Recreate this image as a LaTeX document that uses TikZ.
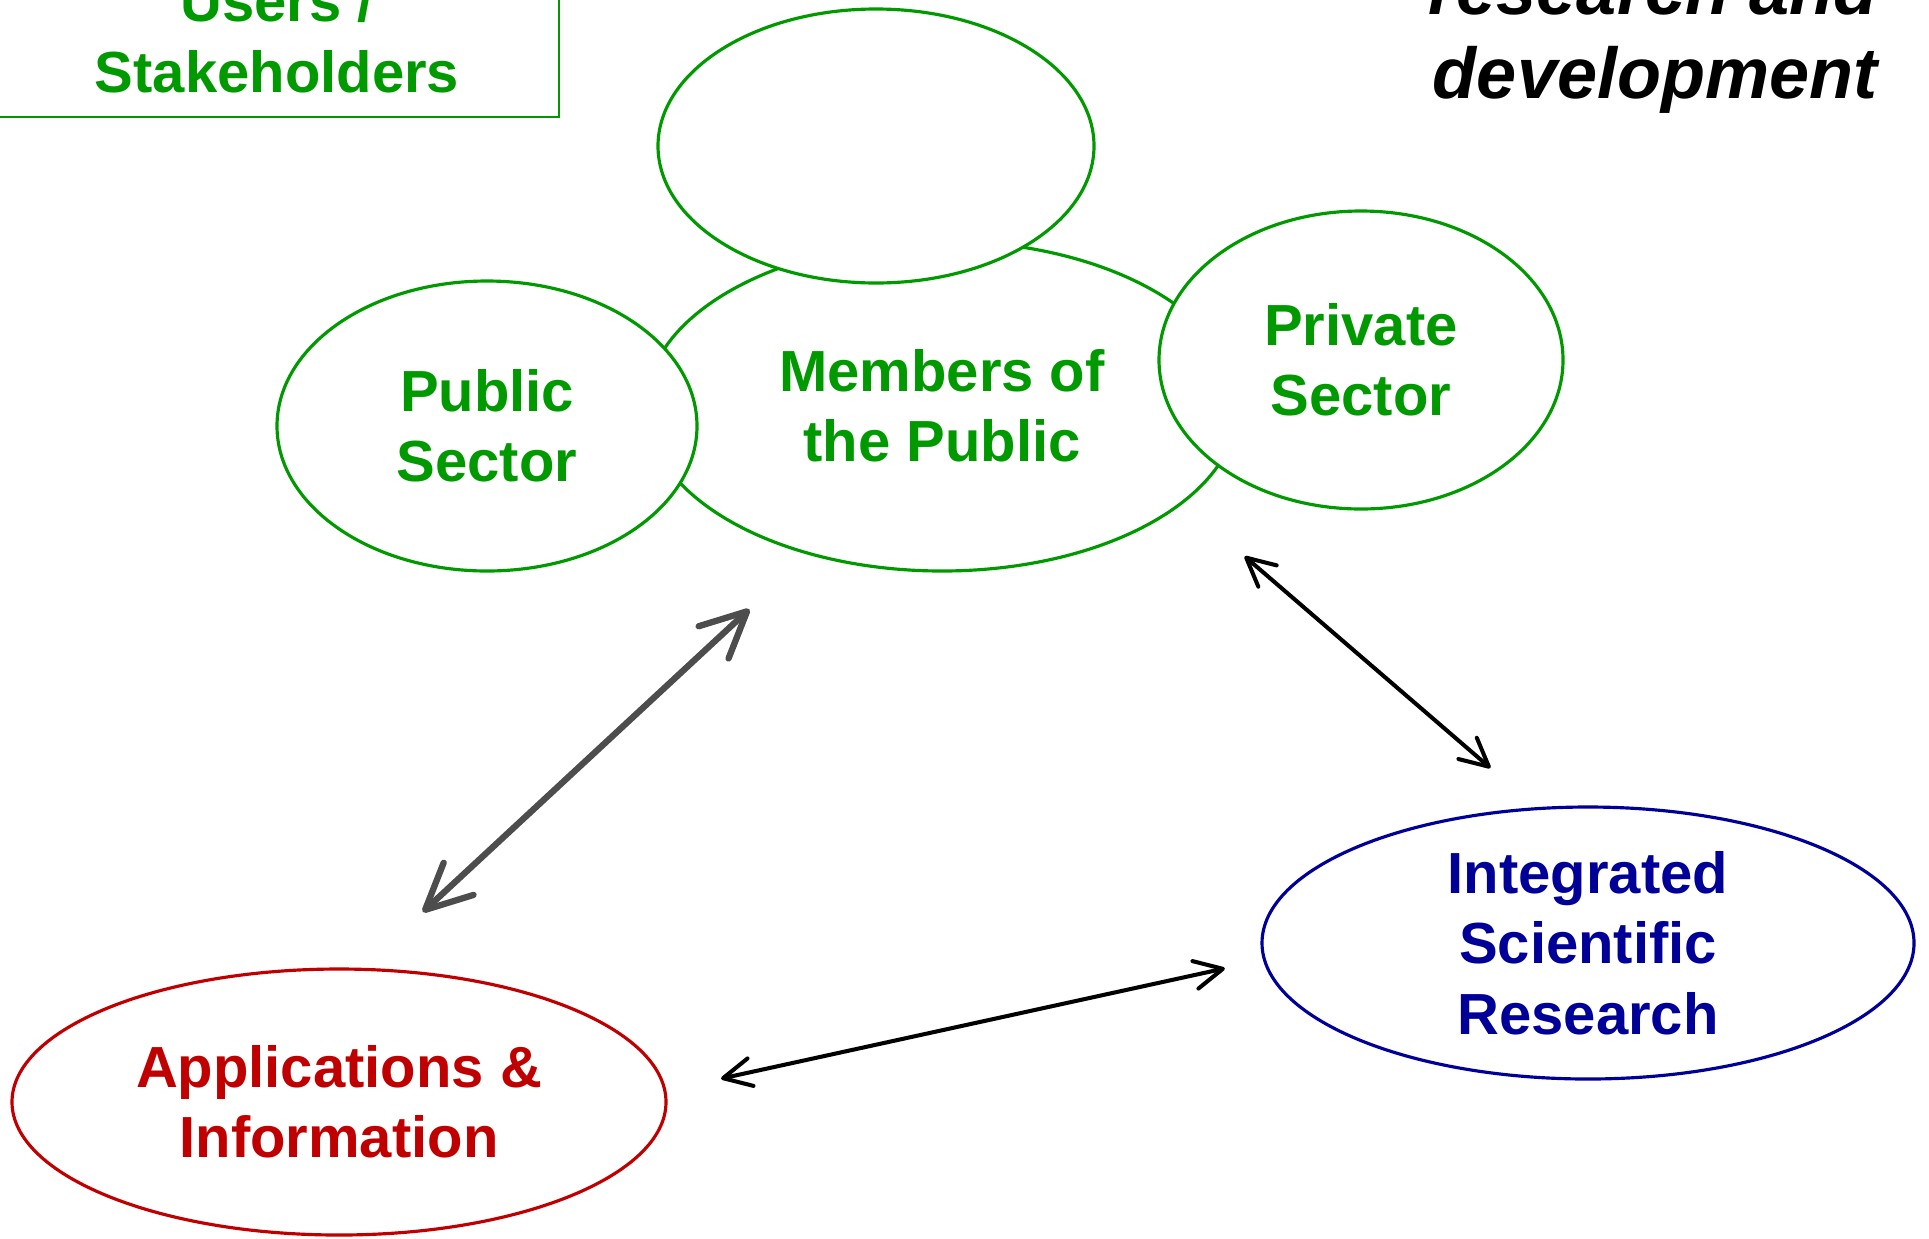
\documentclass[tikz,border=0pt]{standalone}
\usepackage{fontspec}
\setmainfont{Liberation Sans}
\usetikzlibrary{positioning, shapes, arrows.meta}
\definecolor{usergreen}{RGB}{0,153,0}
\definecolor{appred}{RGB}{192,0,0}
\definecolor{sciblue}{RGB}{0,0,153}
\definecolor{arrowgray}{RGB}{77,77,77}

\begin{document}
\begin{tikzpicture}[x=1cm, y=-1cm, font=\fontsize{16.5}{20}\selectfont\bfseries,
  bubble/.style={ellipse, line width=0.9pt, fill=white, align=center, inner sep=0pt},
  greenbubble/.style={bubble, draw=usergreen, text=usergreen},
  stakebox/.style={draw=usergreen, line width=0.7pt, inner sep=0pt},
  grayarrow/.style={draw=arrowgray, line width=1.8pt, line cap=round, {Straight Barb[length=13pt, width=12.5pt, round]}-{Straight Barb[length=13pt, width=12.5pt, round]}},
  blackarrow/.style={draw=black, line width=1.15pt, line cap=round, {Straight Barb[length=8pt, width=8pt, round]}-{Straight Barb[length=8pt, width=8pt, round]}}]
\clip (0,0) rectangle (19.29,12.38);

%\node [stakebox] (users) at (2.77, 0.2) {Users /\\Stakeholders};
\node [stakebox, anchor=south east, minimum width=5.66cm, minimum height=3cm] (users) at (5.60, 1.18) {};
\node [text=usergreen, align=center, anchor=base, inner sep=0pt] (userstext) at (2.77, 0.92) {Users /\\Stakeholders};
\node [align=right, anchor=base east, inner sep=0pt, font=\fontsize{20.5}{23.9}\selectfont\bfseries\itshape] (rdtext) at (18.78, 0.98) {research and\\development};

% the public first, the others lie over it
\node [greenbubble, minimum width=5.92cm, minimum height=3.30cm] (members) at (9.42, 4.06) {Members of\\the Public};
\node [greenbubble, minimum width=4.36cm, minimum height=2.74cm] (topblank) at (8.76, 1.46) {};
\node [greenbubble, minimum width=4.20cm, minimum height=2.90cm] (public) at (4.87, 4.26) {Public\\Sector};
\node [greenbubble, minimum width=4.04cm, minimum height=2.98cm] (private) at (13.61, 3.60) {Private\\Sector};

\node [bubble, draw=sciblue, text=sciblue, minimum width=6.52cm, minimum height=2.72cm] (research) at (15.88, 9.43) {Integrated\\Scientific\\Research};
\node [bubble, draw=appred, text=appred, minimum width=6.54cm, minimum height=2.66cm] (apps) at (3.39, 11.02) {Applications \&\\Information};

\draw [grayarrow, shorten <=0.82cm, shorten >=0.80cm] (apps.80) -- (members.228.5);
\draw [blackarrow, shorten <=0.81cm, shorten >=0.60cm] (members.338.6) -- (research.111.2);
\draw [blackarrow, shorten <=0.56cm, shorten >=0.39cm] (apps.2.1) -- (research.183.2);

\end{tikzpicture}
\end{document}
